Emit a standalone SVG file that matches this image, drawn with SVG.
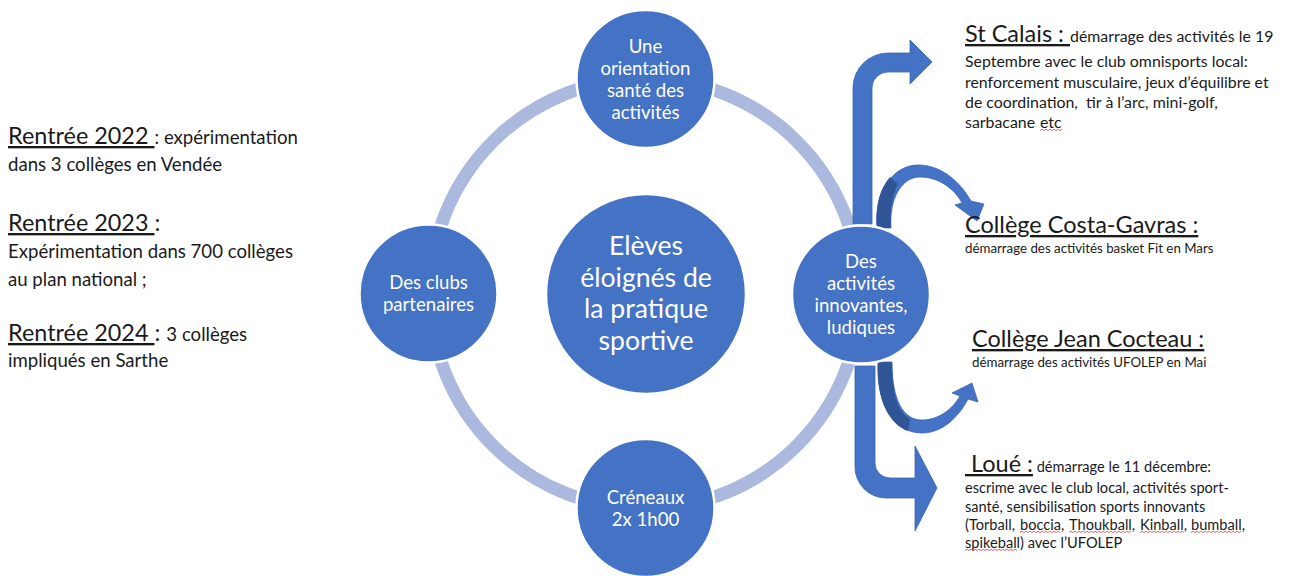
<svg xmlns="http://www.w3.org/2000/svg" width="1289" height="576" viewBox="0 0 1289 576">
<style>
  .bg { fill: #ffffff; }
  .ring { fill: none; stroke: #abb9de; stroke-width: 13; }
  .node { fill: #4472c4; stroke: #ffffff; stroke-width: 2.5; }
  .ntxt { font-family: Lato, "Liberation Sans", sans-serif; font-size: 18.6px; fill: #ffffff; text-anchor: middle; }
  .ctxt { font-family: Lato, "Liberation Sans", sans-serif; font-size: 26.6px; fill: #ffffff; text-anchor: middle; }
  .txt { font-family: Lato, "Liberation Sans", sans-serif; fill: #1a1a1a; }
  .lh { font-size: 23.4px; }
  .lb { font-size: 18.6px; }
  .rh { font-size: 23.5px; }
  .rb { font-size: 15.9px; }
  .rs { font-size: 13.3px; }
  .lo { font-size: 14.6px; }
  .u { text-decoration: underline; }
  .squig { fill: none; stroke: #e04444; stroke-width: 0.8; }
  .arrow { fill: #4472c4; stroke: #3a64b2; stroke-width: 0.8; }
  .shade { fill: #2f5597; }
</style>
<rect class="bg" x="0" y="0" width="1289" height="576"/>

<circle class="ring" cx="645" cy="293.5" r="215"/>

<g id="connectors">
  <path class="arrow" d="M 853,224 L 853,88 A 35,35 0 0 1 888,53 L 910,53 L 910,40 L 932,62 L 910,84 L 910,72 L 888,72 A 16,16 0 0 0 872,88 L 872,224 Z"/>
  <path class="arrow" d="M 877,228 C 874,192 893,165 918,165 C 942,165 960,182 971,201 L 984,204 L 977,221 L 955,205 L 962,203 C 954,188 938,177 920,177 C 902,177 889,198 891,228 Z"/>
  <path class="shade" d="M 877,228 C 875,205 880,188 890,177 L 898,184 C 892,196 890,210 891,228 Z"/>
  <path class="arrow" d="M 878,362 C 876,410 897,433 922,433 C 942,433 958,418 968,399 L 978,402 L 972,383 L 952,393 L 960,396 C 952,410 938,420 922,420 C 903,420 892,400 892,362 Z"/>
  <path class="shade" d="M 878,362 C 876,400 890,425 908,431 L 910,419 C 898,412 892,395 892,362 Z"/>
  <path class="arrow" d="M 855,366 L 855,467 A 31,31 0 0 0 886,498 L 915,498 L 915,531 L 937,488 L 915,446 L 915,478 L 890,478 A 15,15 0 0 1 875,463 L 875,366 Z"/>
</g>

<g id="node-center">
  <circle class="node" cx="646" cy="294" r="100"/>
  <text class="ctxt" x="646" y="255">Elèves</text>
  <text class="ctxt" x="646" y="286.5">éloignés de</text>
  <text class="ctxt" x="646" y="318">la pratique</text>
  <text class="ctxt" x="646" y="349.5">sportive</text>
</g>

<g id="node-top">
  <circle class="node" cx="645.5" cy="79" r="69"/>
  <text class="ntxt" x="645.5" y="53">Une</text>
  <text class="ntxt" x="645.5" y="75">orientation</text>
  <text class="ntxt" x="645.5" y="97">santé des</text>
  <text class="ntxt" x="645.5" y="119">activités</text>
</g>

<g id="node-left">
  <circle class="node" cx="428.5" cy="293.5" r="69"/>
  <text class="ntxt" x="428.5" y="289">Des clubs</text>
  <text class="ntxt" x="428.5" y="311">partenaires</text>
</g>

<g id="node-right">
  <circle class="node" cx="861" cy="294.5" r="69"/>
  <text class="ntxt" x="861" y="268">Des</text>
  <text class="ntxt" x="861" y="290">activités</text>
  <text class="ntxt" x="861" y="312">innovantes,</text>
  <text class="ntxt" x="861" y="334">ludiques</text>
</g>

<g id="node-bottom">
  <circle class="node" cx="645.5" cy="508" r="69"/>
  <text class="ntxt" x="645.5" y="504">Créneaux</text>
  <text class="ntxt" x="645.5" y="526">2x 1h00</text>
</g>

<g id="left-text">
  <text class="txt" x="8" y="144"><tspan class="lh u">Rentrée 2022 </tspan><tspan class="lb">: expérimentation</tspan></text>
  <text class="txt lb" x="8" y="171">dans 3 collèges en Vendée</text>
  <text class="txt lh" x="8" y="231"><tspan class="u">Rentrée 2023 </tspan>:</text>
  <text class="txt lb" x="8" y="258">Expérimentation dans 700 collèges</text>
  <text class="txt lb" x="8" y="286">au plan national ;</text>
  <text class="txt" x="8" y="341"><tspan class="lh u">Rentrée 2024 </tspan><tspan class="lh">: </tspan><tspan class="lb">3 collèges</tspan></text>
  <text class="txt lb" x="8" y="367">impliqués en Sarthe</text>
</g>

<g id="st-calais">
  <text class="txt" x="965" y="42"><tspan class="rh u">St Calais : </tspan><tspan class="rb">démarrage des activités le 19</tspan></text>
  <text class="txt rb" x="965" y="67">Septembre avec le club omnisports local:</text>
  <text class="txt rb" x="965" y="88">renforcement musculaire, jeux d’équilibre et</text>
  <text class="txt rb" x="965" y="108" xml:space="preserve">de coordination,  tir à l’arc, mini-golf,</text>
  <text class="txt rb" x="965" y="128">sarbacane <tspan x="1040">etc</tspan></text>
  <path class="squig" d="M1040,130.5 l2,-1.2 l2,1.2 l2,-1.2 l2,1.2 l2,-1.2 l2,1.2 l2,-1.2 l2,1.2 l2,-1.2 l2,1.2 l2,-1.2"/>
</g>

<g id="costa-gavras">
  <text class="txt rh u" x="965" y="233">Collège Costa-Gavras :</text>
  <text class="txt rs" x="965" y="253">démarrage des activités basket Fit en Mars</text>
</g>

<g id="jean-cocteau">
  <text class="txt rh u" x="972" y="347">Collège Jean Cocteau :</text>
  <text class="txt rs" x="972" y="367">démarrage des activités UFOLEP en Mai</text>
</g>

<g id="loue">
  <text class="txt" x="965" y="472" xml:space="preserve"><tspan class="rh u"> Loué :</tspan><tspan class="lo"> démarrage le 11 décembre:</tspan></text>
  <text class="txt lo" x="965" y="493">escrime avec le club local, activités sport-</text>
  <text class="txt lo" x="965" y="512">santé, sensibilisation sports innovants</text>
  <text class="txt lo" x="965" y="530">(Torball, <tspan x="1020">boccia</tspan>, <tspan x="1069">Thoukball</tspan>, <tspan x="1140">Kinball</tspan>, <tspan x="1191">bumball</tspan>,</text>
  <text class="txt lo" x="965" y="548">spikeball) avec l’UFOLEP</text>
  <path class="squig" d="M1020,532.5 l2,-1.2 l2,1.2 l2,-1.2 l2,1.2 l2,-1.2 l2,1.2 l2,-1.2 l2,1.2 l2,-1.2 l2,1.2 l2,-1.2 l2,1.2 l2,-1.2 l2,1.2 l2,-1.2 l2,1.2 l2,-1.2 l2,1.2 l2,-1.2 l2,1.2"/>
  <path class="squig" d="M1069,532.5 l2,-1.2 l2,1.2 l2,-1.2 l2,1.2 l2,-1.2 l2,1.2 l2,-1.2 l2,1.2 l2,-1.2 l2,1.2 l2,-1.2 l2,1.2 l2,-1.2 l2,1.2 l2,-1.2 l2,1.2 l2,-1.2 l2,1.2 l2,-1.2 l2,1.2 l2,-1.2 l2,1.2 l2,-1.2 l2,1.2 l2,-1.2 l2,1.2 l2,-1.2 l2,1.2 l2,-1.2 l2,1.2 l2,-1.2"/>
  <path class="squig" d="M1140,532.5 l2,-1.2 l2,1.2 l2,-1.2 l2,1.2 l2,-1.2 l2,1.2 l2,-1.2 l2,1.2 l2,-1.2 l2,1.2 l2,-1.2 l2,1.2 l2,-1.2 l2,1.2 l2,-1.2 l2,1.2 l2,-1.2 l2,1.2 l2,-1.2 l2,1.2 l2,-1.2 l2,1.2"/>
  <path class="squig" d="M1191,532.5 l2,-1.2 l2,1.2 l2,-1.2 l2,1.2 l2,-1.2 l2,1.2 l2,-1.2 l2,1.2 l2,-1.2 l2,1.2 l2,-1.2 l2,1.2 l2,-1.2 l2,1.2 l2,-1.2 l2,1.2 l2,-1.2 l2,1.2 l2,-1.2 l2,1.2 l2,-1.2 l2,1.2 l2,-1.2 l2,1.2 l2,-1.2"/>
  <path class="squig" d="M965,550.5 l2,-1.2 l2,1.2 l2,-1.2 l2,1.2 l2,-1.2 l2,1.2 l2,-1.2 l2,1.2 l2,-1.2 l2,1.2 l2,-1.2 l2,1.2 l2,-1.2 l2,1.2 l2,-1.2 l2,1.2 l2,-1.2 l2,1.2 l2,-1.2 l2,1.2 l2,-1.2 l2,1.2 l2,-1.2 l2,1.2 l2,-1.2 l2,1.2"/>
</g>
</svg>
